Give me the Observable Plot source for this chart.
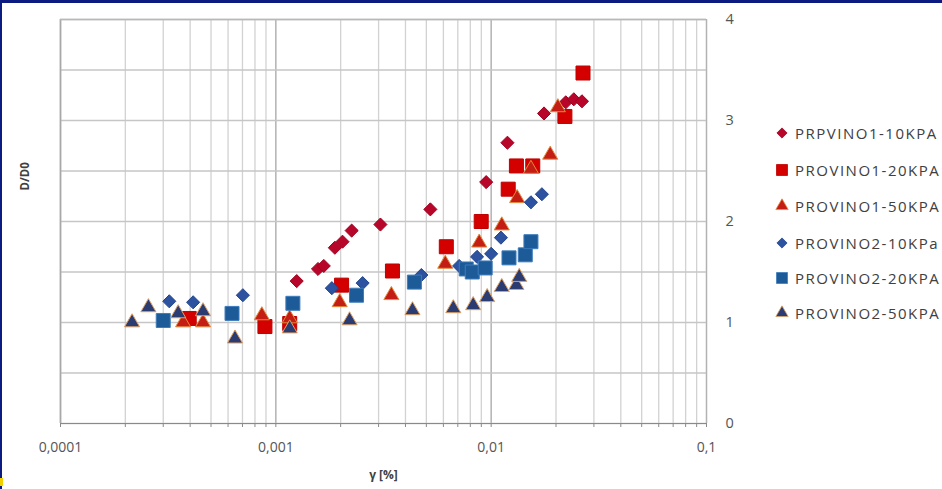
<!DOCTYPE html>
<html>
<head>
<meta charset="utf-8">
<script src="https://cdn.jsdelivr.net/npm/d3@7"></script>
<script src="https://cdn.jsdelivr.net/npm/@observablehq/plot@0.6"></script>
<style>
  html, body { margin: 0; padding: 0; background: #ffffff; }
  #wrap { position: relative; width: 942px; height: 489px; overflow: hidden; background: #fff; }
  #wrap svg { display: block; }
  .bar { position: absolute; background: #0b1b80; }
  #legend { position: absolute; left: 772px; top: 0; font-family: "Open Sans", sans-serif; font-size: 15px; letter-spacing: 1.5px; color: #404040; }
  .li { position: absolute; left: 0; white-space: nowrap; display: flex; align-items: center; height: 20px; }
  .li svg { width: 20px; height: 20px; margin-right: 3px; }
</style>
</head>
<body>
<div id="wrap"></div>
<script>
// ---- data ----
const seriesNames = ["PRPVINO1-10KPA", "PROVINO1-20KPA", "PROVINO1-50KPA", "PROVINO2-10KPa", "PROVINO2-20KPA", "PROVINO2-50KPA"];

const s1x = [0.00125, 0.00157, 0.00167, 0.00188, 0.00204, 0.00225, 0.00306, 0.00522, 0.00948, 0.0119, 0.0176, 0.0222, 0.0242, 0.0264];
const s1y = [1.41, 1.53, 1.56, 1.74, 1.80, 1.91, 1.97, 2.12, 2.39, 2.78, 3.07, 3.18, 3.21, 3.19];

const s2x = [0.000396, 0.00089, 0.00116, 0.00202, 0.00348, 0.00619, 0.00899, 0.0120, 0.0131, 0.0156, 0.0220, 0.0267];
const s2y = [1.04, 0.96, 0.99, 1.37, 1.51, 1.75, 2.00, 2.32, 2.55, 2.55, 3.04, 3.47];

const s3x = [0.000371, 0.000459, 0.000861, 0.00116, 0.00198, 0.00344, 0.00612, 0.0088, 0.0112, 0.0132, 0.0153, 0.0188, 0.0204];
const s3y = [1.00, 1.00, 1.07, 1.04, 1.20, 1.27, 1.58, 1.79, 1.96, 2.23, 2.52, 2.66, 3.13];

const s4x = [0.00032, 0.000413, 0.000703, 0.00182, 0.00253, 0.00474, 0.0071, 0.0086, 0.0100, 0.0111, 0.0153, 0.0172];
const s4y = [1.21, 1.20, 1.27, 1.34, 1.39, 1.47, 1.56, 1.65, 1.68, 1.84, 2.19, 2.27];

const s5x = [0.00030, 0.000626, 0.00120, 0.00237, 0.00440, 0.00766, 0.00817, 0.00938, 0.0121, 0.0144, 0.0153];
const s5y = [1.02, 1.09, 1.19, 1.27, 1.40, 1.53, 1.50, 1.54, 1.64, 1.67, 1.80];

const s6x = [0.000215, 0.000256, 0.000352, 0.000459, 0.000646, 0.00116, 0.00220, 0.00431, 0.00667, 0.00825, 0.00958, 0.0112, 0.0131, 0.0135];
const s6y = [1.00, 1.15, 1.09, 1.11, 0.84, 0.94, 1.02, 1.12, 1.14, 1.17, 1.25, 1.35, 1.37, 1.45];

const xDecades = [0.0001, 0.001, 0.01, 0.1];
const xTickLabels = ["0,0001", "0,001", "0,01", "0,1"];
const yTicks = [0, 1, 2, 3, 4];
const yTickLabels = ["0", "1", "2", "3", "4"];
const xTitle = "γ [%]";
const yTitle = "D/D0";

// ---- styles ----
const symbols = ["diamond2", "square", "triangle", "diamond2", "square", "triangle"];
const fills   = ["#b8062a", "#d40000", "#c41e14", "#2c52a0", "#1c5a98", "#2a3c72"];
const strokes = ["#a0001f", "#c00000", "#e08a3c", "#22468e", "#3d7cbc", "#e0a060"];
const radii   = [5.9, 7.9, 5.6, 5.9, 7.9, 5.6];

const seriesX = [s1x, s2x, s3x, s4x, s5x, s6x];
const seriesY = [s1y, s2y, s3y, s4y, s5y, s6y];
const data = seriesNames.map((name, i) => seriesX[i].map((x, j) => ({series: name, x, y: seriesY[i][j]})));

const minorX = [];
for (let e = -4; e < -1; e++) for (let m = 2; m <= 9; m++) minorX.push(m * Math.pow(10, e));
const allX = xDecades.concat(minorX);
const yGrid = d3.range(0, 4.001, 0.5);

const font = "'Open Sans', sans-serif";

const chart = Plot.plot({
  width: 942,
  height: 489,
  marginLeft: 60,
  marginRight: 236,
  marginTop: 19,
  marginBottom: 66,
  style: {fontFamily: font, background: "transparent", overflow: "visible"},
  x: {type: "log", domain: [0.0001, 0.1], axis: null},
  y: {domain: [0, 4], axis: null},
  marks: [
    Plot.gridX(minorX, {stroke: "#d2d2d2", strokeOpacity: 1, strokeWidth: 1.3}),
    Plot.gridX(xDecades, {stroke: "#b2b2b2", strokeOpacity: 1, strokeWidth: 1.5}),
    Plot.gridY(yGrid, {stroke: "#c6c6c6", strokeOpacity: 1, strokeWidth: 1.4}),
    Plot.ruleX([0.0001], {stroke: "#a8a8a8", strokeWidth: 1.5}),
    Plot.ruleY([4], {stroke: "#b8b8b8", strokeWidth: 1.5}),
    Plot.ruleY([0], {stroke: "#8a8a8a", strokeWidth: 1.2}),
    Plot.axisX(allX, {tickSize: 4, tickFormat: () => "", stroke: "#8a8a8a", label: null}),
    Plot.axisX(xDecades, {
      tickSize: 0, tickPadding: 19,
      tickFormat: d => xTickLabels[xDecades.indexOf(d)],
      fontSize: 14, fill: "#555555", letterSpacing: "1.5px", label: null
    }),
    Plot.axisY(yTicks, {
      anchor: "right", tickSize: 0, tickPadding: 19, textAnchor: "start",
      tickFormat: d => yTickLabels[yTicks.indexOf(d)],
      fontSize: 14.5, fill: "#555555", label: null
    }),
    Plot.text([xTitle], {frameAnchor: "bottom", dy: 55, fontSize: 12, fontWeight: "bold", fill: "#404040", letterSpacing: "0.5px"}),
    Plot.text([yTitle], {frameAnchor: "left", dx: -35, dy: -31, rotate: -90, fontSize: 11.5, fontWeight: "bold", fill: "#404040"}),
    ...data.map((d, i) => Plot.dot(d, {
      x: "x", y: "y", symbol: () => symbols[i], r: radii[i],
      fill: fills[i], stroke: strokes[i], strokeWidth: 1, fillOpacity: 1
    }))
  ]
});

const wrap = document.getElementById("wrap");
wrap.appendChild(chart);

// frame bars of the slide
const barTop = document.createElement("div"); barTop.className = "bar";
Object.assign(barTop.style, {left: "0px", top: "0px", width: "942px", height: "3px"});
wrap.appendChild(barTop);
const barLeft = document.createElement("div"); barLeft.className = "bar";
Object.assign(barLeft.style, {left: "0px", top: "0px", width: "2px", height: "489px"});
wrap.appendChild(barLeft);
const spot = document.createElement("div");
Object.assign(spot.style, {position: "absolute", left: "0px", top: "478px", width: "3px", height: "8px", background: "#f0d000"});
wrap.appendChild(spot);

// legend
const legend = document.createElement("div");
legend.id = "legend";
const rowY = [133, 170, 206, 243, 278, 313];
const legendR = [4.6, 6.2, 4.6, 4.6, 6.2, 4.6];
const symMap = {diamond2: d3.symbolDiamond2, square: d3.symbolSquare, triangle: d3.symbolTriangle};
seriesNames.forEach((name, i) => {
  const row = document.createElement("div");
  row.className = "li";
  row.style.top = (rowY[i] - 10) + "px";
  const size = Math.PI * legendR[i] * legendR[i];
  const path = d3.symbol(symMap[symbols[i]], size)();
  row.innerHTML = `<svg viewBox="-10 -10 20 20"><path d="${path}" fill="${fills[i]}" stroke="${strokes[i]}" stroke-width="0.8"></path></svg><span>${name}</span>`;
  legend.appendChild(row);
});
wrap.appendChild(legend);
</script>
</body>
</html>
